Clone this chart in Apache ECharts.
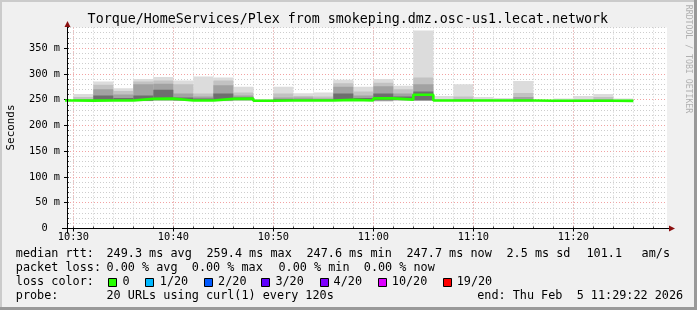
<!DOCTYPE html>
<html><head><meta charset="utf-8">
<script src="https://cdn.jsdelivr.net/npm/echarts@6/dist/echarts.min.js"></script>
<style>html,body{margin:0;padding:0;background:#f0f0f0}#c{width:697px;height:310px}</style>
</head><body><div id="c"></div>
<script>
// ---- data ----
const times = ['10:28','10:30','10:32','10:34','10:36','10:38','10:40','10:42','10:44','10:46','10:48','10:50','10:52','10:54','10:56','10:58','11:00','11:02','11:04','11:06','11:08','11:10','11:12','11:14','11:16','11:18','11:20','11:22','11:24'];
const median   = [248.5,248.2,248.5,248.5,251.5,252,248.5,248.5,251.5,252,248,248.5,248.5,248.5,249.5,248.5,252.5,250,259.4,248.5,248.5,248.5,248.5,248.5,248,248,248,248,247.7];
const outerLo  = [null,247.5,247,247.5,247,247.5,247.5,247.5,247,248,247.5,247.5,247.5,247.5,247.5,247.5,246,248,247.5,247.5,247,247.5,247.5,245.5,247.5,247.5,247.5,247.5,247];
const outerHi  = [null,261,285,272,290,294,287,295,293,275,251,275,262.5,264,288.5,275,290,277,384,257,280,255,253,286,249.5,252,257,261,252];
const midLo    = [null,248,248,248,247.5,248,248,248,248,248.5,248,248,248,248,248,248,247.5,248.5,248,248,248,248,248,247,248,248,248,248,247.5];
const midHi    = [null,255,279,267,285,287,280,262,287,264,250,262,257,256,282,266,283,270,293,251,256,251,250,263,249,250,251,255,250];
const innerLo  = [null,248.5,248.5,248.5,248,249,248.5,248.5,248.5,249,248,248.5,248.5,248.5,248.5,248.5,248,249,248.5,248,248,248,248,248,248,248,248,248,248];
const innerHi  = [null,251,270,260,280,281,262,256,278,258,249.5,254,254,252,275,258,276,262,280,249.5,251,249.5,249,255,248.5,249,249.5,251,249];
const coreLo   = [null,248.5,249,249,248,250,249,249,249,250,248,248.5,248.5,248.5,249,249,249,249.5,249,248,248,248,248,248,248,248,248,248,248];
const coreHi   = [null,249.5,258,253,258,269,254,252,262,254,249,251,250,250,262,253,262,256,266,249,249.5,249,248.5,250,248.5,248.5,249,249.5,248.5];
const stepMinutes = 2;
const xTickLabels = ['10:30','10:40','10:50','11:00','11:10','11:20'];
const yTickValues = [0,50,100,150,200,250,300,350];
const lossLabels = ['0','1/20','2/20','3/20','4/20','10/20','19/20'];
const lossColors = ['#26ff00','#00b8ff','#0059ff','#5e00ff','#7e00ff','#dd00ff','#ff0000'];

// ---- layout ----
const W = 697, H = 310;
const G = {left: 67, right: 30, top: 27.5, bottom: 81.5};
const toMin = s => { const p = s.split(':'); return (+p[0] - 10) * 60 + (+p[1]); };
const xMin = toMin('10:29') + 22/60, xMax = toMin('11:29') + 22/60;
const MONO = '"DejaVu Sans Mono", monospace';

const minorX = []; for (let m = 30; m <= 88; m += 2) minorX.push(m);
const majorX = xTickLabels.map(toMin);

function smoke(lo, hi, color) {
  const data = [];
  for (let i = 0; i < times.length; i++) {
    if (lo[i] == null) continue;
    const t = toMin(times[i]);
    data.push([t, t + stepMinutes, lo[i], hi[i]]);
  }
  return {
    type: 'custom', xAxisIndex: 0, yAxisIndex: 0, data: data, silent: true, clip: true,
    encode: {x: [0, 1], y: [2, 3]},
    renderItem: function (params, api) {
      const a = api.coord([api.value(0), api.value(3)]);
      const b = api.coord([api.value(1), api.value(2)]);
      return {type: 'rect', shape: {x: a[0], y: a[1], width: b[0] - a[0], height: b[1] - a[1]}, style: {fill: color}};
    }
  };
}

const medData = times.map((t, i) => [toMin(t), median[i]]);
medData.push([toMin(times[times.length - 1]) + stepMinutes, median[median.length - 1]]);

const gray = '#cdcdcd', red = '#f2a2a2';
const axisY = H - G.bottom, axisX = G.left;

const graphic = [];
// frame
graphic.push({type: 'rect', shape: {x: 0, y: 0, width: W, height: 2}, style: {fill: '#cbcbcb'}, silent: true});
graphic.push({type: 'rect', shape: {x: 0, y: 0, width: 2, height: H}, style: {fill: '#cbcbcb'}, silent: true});
graphic.push({type: 'rect', shape: {x: 0, y: H - 3, width: W, height: 3}, style: {fill: '#999999'}, silent: true});
graphic.push({type: 'rect', shape: {x: W - 3, y: 0, width: 3, height: H}, style: {fill: '#999999'}, silent: true});
// axes lines + arrows
graphic.push({type: 'line', shape: {x1: 62, y1: axisY, x2: 670, y2: axisY}, style: {stroke: '#000', lineWidth: 1}, z: 50});
graphic.push({type: 'line', shape: {x1: axisX + 0.5, y1: axisY + 5, x2: axisX + 0.5, y2: 25}, style: {stroke: '#000', lineWidth: 1}, z: 50});
graphic.push({type: 'polygon', shape: {points: [[669, axisY - 3], [675, axisY], [669, axisY + 3]]}, style: {fill: '#8b1010'}, z: 51});
graphic.push({type: 'polygon', shape: {points: [[axisX + 0.5 - 3, 27], [axisX + 0.5, 21], [axisX + 0.5 + 3, 27]]}, style: {fill: '#8b1010'}, z: 51});
// title
graphic.push({type: 'text', x: 347.8, y: 20, style: {text: 'Torque/HomeServices/Plex from smokeping.dmz.osc-us1.lecat.network', font: '13.3px ' + MONO, fill: '#000', align: 'center', verticalAlign: 'middle'}});
// y name
graphic.push({type: 'text', x: 10.8, y: 127.5, rotation: Math.PI / 2, style: {text: 'Seconds', font: '10.9px ' + MONO, fill: '#000', align: 'center', verticalAlign: 'middle'}});
// watermark
graphic.push({type: 'text', x: 688, y: 59, rotation: -Math.PI / 2, style: {text: 'RRDTOOL / TOBI OETIKER', font: '8.2px ' + MONO, fill: '#b0b0b0', align: 'center', verticalAlign: 'middle'}});
// legend
function txt(x, y, s) { graphic.push({type: 'text', x: x - 0.6, y: y, style: {text: s, font: '11.8px ' + MONO, fill: '#000', align: 'left', verticalAlign: 'middle'}}); }
txt(16.4, 254, 'median rtt:'); txt(107.1, 254, '249.3 ms avg'); txt(207.1, 254, '259.4 ms max'); txt(307.1, 254, '247.6 ms min');
txt(407.1, 254, '247.7 ms now'); txt(507.1, 254, '2.5 ms sd'); txt(587.1, 254, '101.1'); txt(642.2, 254, 'am/s');
txt(16.4, 268, 'packet loss:'); txt(107.1, 268, '0.00 % avg'); txt(192.4, 268, '0.00 % max'); txt(279.1, 268, '0.00 % min'); txt(364.4, 268, '0.00 % now');
txt(16.4, 282, 'loss color:');
const boxX = [108, 145.3, 203.6, 261.3, 319.6, 377.8, 442.7];
const lblX = [123, 160.4, 218.7, 276, 334.2, 392.4, 457.3];
lossLabels.forEach((l, i) => {
  graphic.push({type: 'rect', shape: {x: Math.round(boxX[i]) + 0.5, y: 278.5, width: 8, height: 8}, style: {fill: lossColors[i], stroke: '#000', lineWidth: 1}});
  txt(lblX[i], 282, l);
});
txt(16.4, 296, 'probe:'); txt(107.1, 296, '20 URLs using curl(1) every 120s'); txt(477.8, 296, 'end: Thu Feb  5 11:29:22 2026');

const chart = echarts.init(document.getElementById('c'), null, {renderer: 'canvas'});
chart.setOption({
  animation: false,
  backgroundColor: '#f0f0f0',
  grid: {left: G.left, right: G.right, top: G.top, bottom: G.bottom, show: true, backgroundColor: '#ffffff', borderWidth: 0},
  xAxis: [
    {type: 'value', min: xMin, max: xMax, position: 'bottom',
     axisLine: {show: false}, axisLabel: {show: false},
     axisTick: {show: true, customValues: minorX, inside: true, length: 2, lineStyle: {color: '#444'}},
     splitLine: {show: true, lineStyle: {color: gray, type: [1, 2], width: 1}}},
    {type: 'value', min: xMin, max: xMax, position: 'bottom',
     axisLine: {show: false},
     axisLabel: {show: true, customValues: majorX, margin: 4, fontFamily: MONO, fontSize: 10.3, color: '#000',
       formatter: v => xTickLabels[majorX.indexOf(Math.round(v))] || ''},
     axisTick: {show: true, customValues: majorX, length: 3, lineStyle: {color: '#000'}},
     splitLine: {show: true, lineStyle: {color: red, type: [1, 2], width: 1}}}
  ],
  yAxis: [
    {type: 'value', min: 0, max: 390, interval: 10, position: 'left',
     axisLine: {show: false}, axisLabel: {show: false},
     axisTick: {show: true, inside: true, length: 2, lineStyle: {color: '#444'}},
     splitLine: {show: true, lineStyle: {color: gray, type: [1, 2], width: 1}}},
    {type: 'value', min: 0, max: 390, position: 'left',
     axisLine: {show: false},
     axisLabel: {show: true, customValues: yTickValues, margin: 7, fontFamily: MONO, fontSize: 10.3, color: '#000',
       formatter: v => v === 0 ? '0  ' : v + ' m'},
     axisTick: {show: true, customValues: yTickValues, length: 3, lineStyle: {color: '#000'}},
     splitLine: {show: true, lineStyle: {color: red, type: [1, 2], width: 1}}}
  ],
  series: [
    smoke(outerLo, outerHi, '#dcdcdc'),
    smoke(midLo, midHi, '#c2c2c2'),
    smoke(innerLo, innerHi, '#a2a2a2'),
    smoke(coreLo, coreHi, '#6e6e6e'),
    {type: 'line', xAxisIndex: 0, yAxisIndex: 0, step: 'end', data: medData, symbol: 'none', clip: true,
     lineStyle: {color: '#26ff00', width: 2.6}, silent: true, z: 5}
  ],
  graphic: graphic
});
</script></body></html>
